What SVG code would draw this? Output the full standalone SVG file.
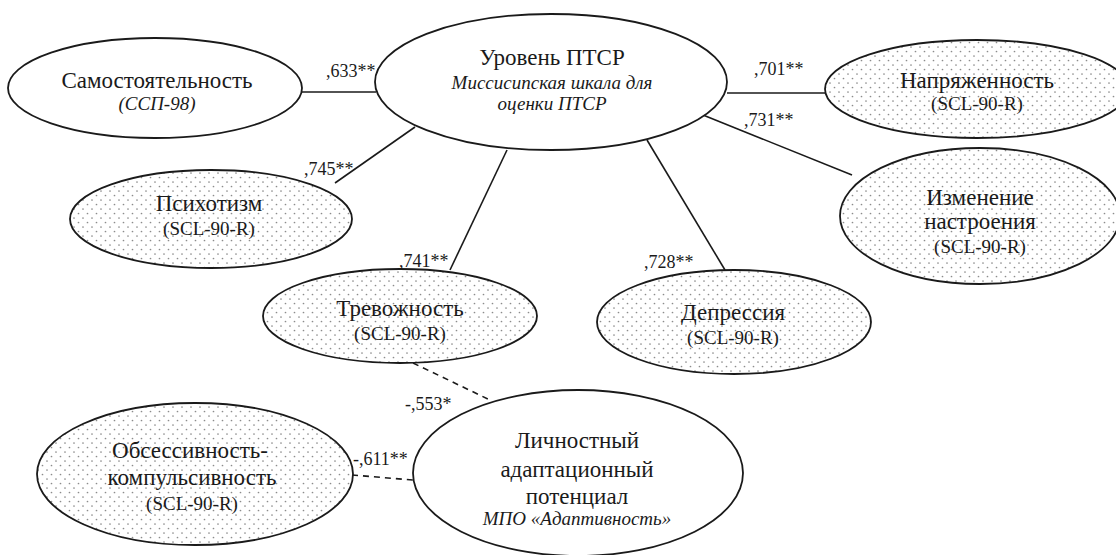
<svg xmlns="http://www.w3.org/2000/svg" width="1116" height="555" viewBox="0 0 1116 555" font-family="Liberation Serif, DejaVu Serif, Noto Serif, Times New Roman, serif">
<style>
.e{stroke:#1a1a1a;stroke-width:1.8}
.w{fill:#fff}
.d{fill:url(#dots)}
.t{fill:#1a1a1a;text-anchor:middle}
.m{font-size:23px}
.s{font-size:19px}
.i{font-style:italic;font-size:19px}
.l{font-size:18px;fill:#1a1a1a}
.c line{stroke:#1a1a1a;stroke-width:1.6}
.c .dash{stroke-dasharray:6 5}
</style>
<defs>
<pattern id="dots" width="9" height="9" patternUnits="userSpaceOnUse">
<rect width="9" height="9" fill="#fff"/>
<circle cx="2" cy="2" r="0.85" fill="#8c8c8c"/>
<circle cx="6.5" cy="6.5" r="0.85" fill="#8c8c8c"/>
</pattern>
</defs>
<rect width="1116" height="555" fill="#fff"/>
<g id="connectors" class="c">
<line x1="302" y1="92" x2="376" y2="92"/>
<line x1="727" y1="93" x2="826" y2="93"/>
<line x1="703" y1="115" x2="852" y2="175"/>
<line x1="647" y1="140" x2="725" y2="270"/>
<line x1="507" y1="150" x2="450" y2="270"/>
<line x1="415" y1="127" x2="335" y2="183"/>
<line class="dash" x1="413" y1="363" x2="490" y2="400"/>
<line class="dash" x1="352" y1="475" x2="413" y2="480"/>
</g>
<g id="labels">
<text class="l" x="326" y="77">,633**</text>
<text class="l" x="754" y="75">,701**</text>
<text class="l" x="744" y="126">,731**</text>
<text class="l" x="304" y="175">,745**</text>
<text class="l" x="399" y="267">,741**</text>
<text class="l" x="644" y="268">,728**</text>
<text class="l" x="405" y="410">-,553*</text>
<text class="l" x="353" y="465">-,611**</text>
</g>
<g id="n-samost">
<ellipse class="e w" cx="155" cy="88" rx="147" ry="50"/>
<text class="t m" x="157" y="88">Самостоятельность</text>
<text class="t i" x="157" y="110">(ССП-98)</text>
</g>
<g id="n-ptsr">
<ellipse class="e w" cx="551" cy="82" rx="176" ry="68"/>
<text class="t m" x="552" y="65">Уровень ПТСР</text>
<text class="t i" x="552" y="89">Миссисипская шкала для</text>
<text class="t i" x="552" y="110">оценки ПТСР</text>
</g>
<g id="n-napr">
<ellipse class="e d" cx="977" cy="89" rx="152" ry="49"/>
<text class="t m" x="977" y="88">Напряженность</text>
<text class="t s" x="977" y="110">(SCL-90-R)</text>
</g>
<g id="n-izm">
<ellipse class="e d" cx="980" cy="216" rx="140" ry="68"/>
<text class="t m" x="980" y="205">Изменение</text>
<text class="t m" x="980" y="229">настроения</text>
<text class="t s" x="980" y="253">(SCL-90-R)</text>
</g>
<g id="n-psih">
<ellipse class="e d" cx="211" cy="219" rx="141" ry="49"/>
<text class="t m" x="209" y="211">Психотизм</text>
<text class="t s" x="209" y="235">(SCL-90-R)</text>
</g>
<g id="n-trev">
<ellipse class="e d" cx="400" cy="316" rx="137" ry="47"/>
<text class="t m" x="400" y="316">Тревожность</text>
<text class="t s" x="400" y="340">(SCL-90-R)</text>
</g>
<g id="n-depr">
<ellipse class="e d" cx="734" cy="322" rx="137" ry="52"/>
<text class="t m" x="733" y="320">Депрессия</text>
<text class="t s" x="733" y="344">(SCL-90-R)</text>
</g>
<g id="n-obs">
<ellipse class="e d" cx="195" cy="474" rx="158" ry="71"/>
<text class="t m" x="190" y="458">Обсессивность-</text>
<text class="t m" x="192" y="485">компульсивность</text>
<text class="t s" x="192" y="510">(SCL-90-R)</text>
</g>
<g id="n-lap">
<ellipse class="e w" cx="578" cy="473" rx="165" ry="83"/>
<text class="t m" x="577" y="448">Личностный</text>
<text class="t m" x="577" y="477">адаптационный</text>
<text class="t m" x="577" y="504">потенциал</text>
<text class="t i" x="577" y="525">МПО «Адаптивность»</text>
</g>
</svg>
